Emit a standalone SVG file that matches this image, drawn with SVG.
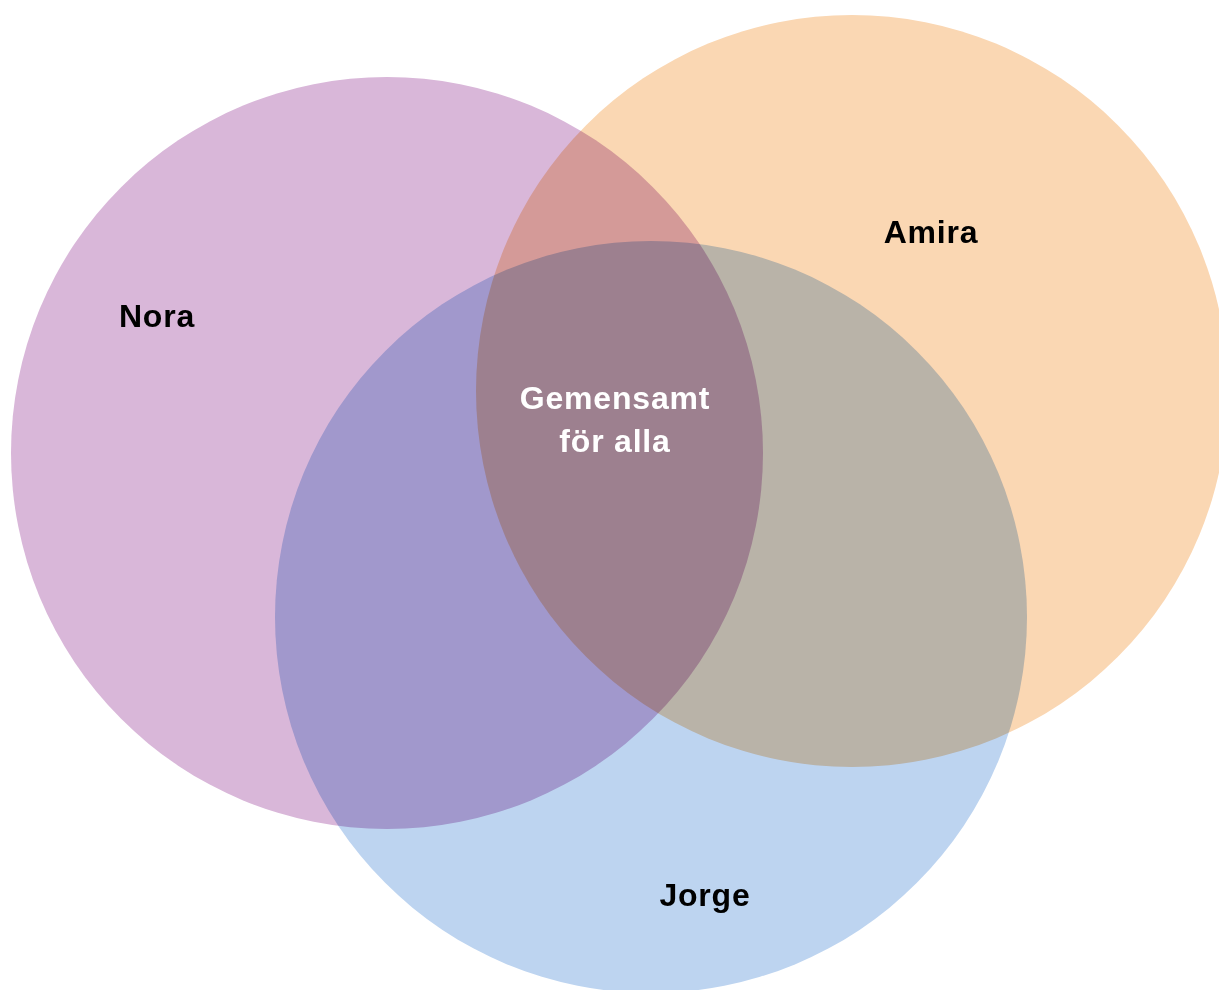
<svg xmlns="http://www.w3.org/2000/svg" width="1219" height="990" viewBox="0 0 1219 990">
<style>
.set{mix-blend-mode:multiply}
.lbl{font-family:"Liberation Sans",Arial,sans-serif;font-weight:bold;font-size:32px;letter-spacing:0.8px;text-anchor:middle;fill:#000}
.mid{fill:#fff}
</style>
<rect width="1219" height="990" fill="#fff"/>
<g style="isolation:isolate">
<g id="nora"><circle class="set" cx="387" cy="453" r="376" fill="#d9b7d9"/></g>
<g id="amira"><circle class="set" cx="852" cy="391" r="376" fill="#fad7b3"/></g>
<g id="jorge"><circle class="set" cx="651" cy="617" r="376" fill="#bdd4f0"/></g>
</g>
<g id="labels">
<text class="lbl" x="157" y="327">Nora</text>
<text class="lbl" x="931" y="243">Amira</text>
<text class="lbl" x="705" y="906">Jorge</text>
<text class="lbl mid" x="615" y="409">Gemensamt</text>
<text class="lbl mid" x="615" y="452">för alla</text>
</g>
<g id="connectors"/>
</svg>
